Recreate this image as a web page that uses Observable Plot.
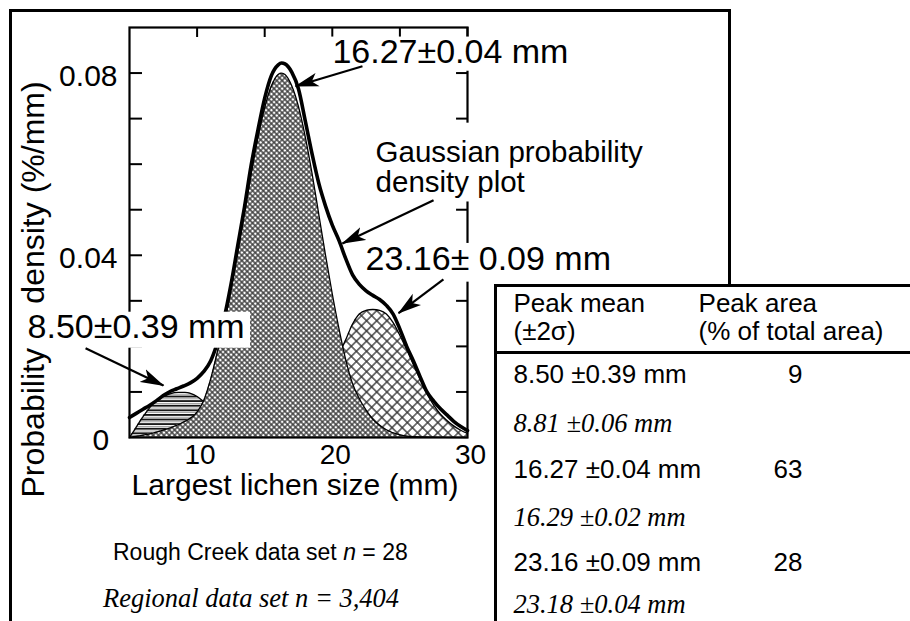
<!DOCTYPE html>
<html>
<head>
<meta charset="utf-8">
<script src="https://cdn.jsdelivr.net/npm/d3@7"></script>
<script src="https://cdn.jsdelivr.net/npm/@observablehq/plot@0.6"></script>
<style>
  body { margin: 0; background: #fff; overflow: hidden; }
  #wrap { position: relative; width: 910px; height: 621px; overflow: hidden; background: #fff;
          font-family: "Liberation Sans", Arial, Helvetica, sans-serif; }
  #wrap svg { position: absolute; left: 0; top: 0; }
  svg text { white-space: pre; }
  .ln { position: absolute; background: #000; }
  .note { position: absolute; white-space: nowrap; line-height: 1; color: #000; }
</style>
</head>
<body>
<div id="wrap"></div>
<script>
// ---------------- data ----------------
// Peak 1 (8.50 mm) fitted component
const peak1X = [5, 5.4, 5.8, 6.3, 6.8, 7.5, 8.0, 8.6, 9.1, 9.5, 10.0, 10.4, 11, 12, 13, 14];
const peak1Y = [0, 0.0018, 0.0037, 0.0058, 0.0076, 0.0090, 0.0096, 0.0099, 0.0099, 0.0097, 0.0090, 0.0081, 0.0066, 0.0040, 0.0020, 0.0008];
// Peak 2 (16.27 mm) fitted component
const peak2X = [5, 6, 7, 8, 9, 10, 10.5, 11, 11.5, 12, 12.5, 13, 13.5, 14, 14.5, 15, 15.5, 16, 16.25, 16.5, 17, 17.5, 18, 18.5, 19, 19.5, 20, 20.5, 21, 21.5, 22, 22.5, 23, 24, 25, 26, 30];
const peak2Y = [0, 0.0005, 0.0012, 0.0021, 0.0034, 0.0056, 0.0082, 0.0128, 0.0188, 0.0250, 0.0323, 0.0405, 0.0492, 0.0578, 0.0658, 0.0724, 0.0772, 0.0797, 0.0800, 0.0797, 0.0772, 0.0726, 0.0660, 0.0580, 0.0490, 0.0400, 0.0315, 0.0238, 0.0170, 0.0118, 0.0085, 0.0060, 0.0040, 0.0017, 0.0006, 0.0002, 0];
// Peak 3 (23.16 mm) fitted component
const peak3X = [14, 16, 18, 19, 20, 20.5, 21, 21.5, 22, 22.5, 23, 23.5, 24, 24.5, 25, 25.5, 26, 26.5, 27, 27.5, 28, 28.5, 29, 29.5, 30];
const peak3Y = [0.0003, 0.0018, 0.0062, 0.0098, 0.0150, 0.0182, 0.0215, 0.0249, 0.0271, 0.0279, 0.0281, 0.0279, 0.0271, 0.0252, 0.0224, 0.0193, 0.0160, 0.0128, 0.0096, 0.0071, 0.0051, 0.0037, 0.0025, 0.0016, 0.0009];
// Gaussian probability density plot (thick line)
const densX = [5, 5.5, 6, 6.5, 7, 7.5, 8, 8.5, 9, 9.5, 10, 10.5, 11, 11.5, 12, 12.5, 13, 13.5, 14, 14.5, 15, 15.5, 16, 16.25, 16.5, 17, 17.5, 18, 18.5, 19, 19.5, 20, 20.5, 21, 21.5, 22, 22.5, 23, 23.5, 24, 24.5, 25, 25.5, 26, 26.5, 27, 27.5, 28, 28.5, 29, 29.5, 30];
const densY = [0.0044, 0.0053, 0.0062, 0.0071, 0.0081, 0.0092, 0.0101, 0.0107, 0.0113, 0.0120, 0.0130, 0.0145, 0.0168, 0.0208, 0.0262, 0.0335, 0.0420, 0.0505, 0.0598, 0.0675, 0.0745, 0.0795, 0.0818, 0.0822, 0.0820, 0.0802, 0.0765, 0.0695, 0.0623, 0.0558, 0.0508, 0.0466, 0.0432, 0.0392, 0.0357, 0.0336, 0.0322, 0.0312, 0.0303, 0.0290, 0.0271, 0.0238, 0.0200, 0.0168, 0.0133, 0.0100, 0.0080, 0.0063, 0.0049, 0.0035, 0.0024, 0.0015];

// ticks and labels
const yTickLabels = [0, 0.04, 0.08];
const yMinorTicks = [0.01, 0.02, 0.03, 0.04, 0.05, 0.06, 0.07, 0.08];
const xTickLabels = [10, 20, 30];
const xTopTicks = [10, 15, 20, 25, 30];
const xTitle = "Largest lichen size (mm)";
const yTitle = "Probability     density (%/mm)";

// annotation and table texts
const peakLabels = ["16.27±0.04 mm", "23.16± 0.09 mm", "8.50±0.39 mm"];
const curveLabel = ["Gaussian probability", "density plot"];
const tableHeader = ["Peak mean", "(±2σ)", "Peak area", "(% of total area)"];
const peakMeans = ["8.50 ±0.39 mm", "16.27 ±0.04 mm", "23.16 ±0.09 mm"];
const regionalMeans = ["8.81 ±0.06 mm", "16.29 ±0.02 mm", "23.18 ±0.04 mm"];
const peakAreas = ["9", "63", "28"];

// ---------------- layout (data units) ----------------
const pts = (xs, ys) => xs.map((x, i) => ({x, y: ys[i]}));
const p1 = pts(peak1X, peak1Y), p2 = pts(peak2X, peak2Y), p3 = pts(peak3X, peak3Y), dens = pts(densX, densY);

const SANS = "Liberation Sans, Arial, Helvetica, sans-serif";
const SERIF = "Liberation Serif, Times New Roman, serif";

const peakLabelPos = [{x: 20.01, y: 0.0822}, {x: 22.46, y: 0.0367}, {x: -2.54, y: 0.0218}];
const peakLabelData = peakLabels.map((t, i) => ({...peakLabelPos[i], text: t}));
const curveLabelData = curveLabel.map((t, i) => ({x: 23.2, y: [0.0604, 0.05385][i], text: t}));
const labelBoxes = [
  {x1: 19.87, x2: 37.62, y1: 0.0804, y2: 0.0879},
  {x1: 22.97, x2: 43.9, y1: 0.0517, y2: 0.0690},
  {x1: 22.23, x2: 41.02, y1: 0.0341, y2: 0.0426},
  {x1: -2.69, x2: 13.95, y1: 0.0196, y2: 0.0275}
];
const arrows = [
  {x1: 22.23, y1: 0.0815, x2: 17.28, y2: 0.0771},
  {x1: 27.49, y1: 0.0521, x2: 20.75, y2: 0.0426},
  {x1: 28.22, y1: 0.0347, x2: 24.9, y2: 0.0273},
  {x1: 1.75, y1: 0.0196, x2: 7.51, y2: 0.0114}
];
const axisTitles = [{x: 17.24, y: 0, text: xTitle}];
const yTitleData = [{x: -1.36, y: 0.0325, text: yTitle}];

const colMean = 33.4, colArea = 47.09, colNum = 54.78;
const headerCells = [
  {x: colMean, y: 0.02747, text: tableHeader[0]},
  {x: colMean, y: 0.02132, text: tableHeader[1]},
  {x: colArea, y: 0.02747, text: tableHeader[2]},
  {x: colArea, y: 0.02132, text: tableHeader[3]}
];
const meanRowY = [0.01187, -0.00879, -0.02923];
const regRowY = [0.0011, -0.01934, -0.03846];
const meanCells = peakMeans.map((t, i) => ({x: colMean, y: meanRowY[i], text: t}));
const areaCells = peakAreas.map((t, i) => ({x: colNum, y: meanRowY[i], text: t}));
const regCells = regionalMeans.map((t, i) => ({x: colMean, y: regRowY[i], text: t}));

const curve = "monotone-x";

const chart = Plot.plot({
  width: 910, height: 621,
  marginLeft: 129, marginRight: 443, marginTop: 27, marginBottom: 184,
  x: {domain: [5, 30]},
  y: {domain: [0, 0.09]},
  style: {background: "transparent", color: "black", fontFamily: SANS, overflow: "visible"},
  marks: [
    Plot.areaY(p1, {x: "x", y: "y", curve, fill: "url(#pStripe)"}),
    Plot.lineY(p1, {x: "x", y: "y", curve, stroke: "black", strokeWidth: 1.3}),
    Plot.areaY(p3, {x: "x", y: "y", curve, fill: "url(#pCoarse)"}),
    Plot.lineY(p3, {x: "x", y: "y", curve, stroke: "black", strokeWidth: 1.3}),
    Plot.areaY(p2, {x: "x", y: "y", curve, fill: "url(#pFine)"}),
    Plot.lineY(p2, {x: "x", y: "y", curve, stroke: "black", strokeWidth: 1.3}),
    Plot.lineY(dens, {x: "x", y: "y", curve, stroke: "black", strokeWidth: 3.6}),
    Plot.frame({stroke: "black", strokeWidth: 2.2}),
    Plot.ruleY(yMinorTicks, {y: d => d, x1: 5, x2: 5.96, stroke: "black", strokeWidth: 2}),
    Plot.ruleY(yMinorTicks, {y: d => d, x1: 29.19, x2: 30, stroke: "black", strokeWidth: 2}),
    Plot.ruleX(xTopTicks, {x: d => d, y1: 0.09, y2: 0.0878, stroke: "black", strokeWidth: 2}),
    Plot.axisX(xTickLabels, {tickSize: 0, tickPadding: 7, fontSize: 28, dx: 3, label: null}),
    Plot.axisY(yTickLabels, {tickSize: 0, tickPadding: 12, fontSize: 30, dy: 3, label: null,
      tickFormat: d => d === 0 ? "0 " : d.toFixed(2)}),
    Plot.text(axisTitles, {x: "x", y: "y", text: "text", dy: 57, lineAnchor: "bottom", fontSize: 30}),
    Plot.text(yTitleData, {x: "x", y: "y", text: "text", rotate: -90, lineAnchor: "bottom", fontSize: 32}),
    Plot.rect(labelBoxes, {x1: "x1", x2: "x2", y1: "y1", y2: "y2", fill: "white"}),
    Plot.text(peakLabelData, {x: "x", y: "y", text: "text", textAnchor: "start", lineAnchor: "bottom", fontSize: 34}),
    Plot.text(curveLabelData, {x: "x", y: "y", text: "text", textAnchor: "start", lineAnchor: "bottom", fontSize: 29.5}),
    Plot.link(arrows, {x1: "x1", y1: "y1", x2: "x2", y2: "y2", stroke: "black", strokeWidth: 2.2, markerEnd: "arrow"}),
    Plot.text(headerCells, {x: "x", y: "y", text: "text", textAnchor: "start", lineAnchor: "bottom", fontSize: 26}),
    Plot.text(meanCells, {x: "x", y: "y", text: "text", textAnchor: "start", lineAnchor: "bottom", fontSize: 26}),
    Plot.text(areaCells, {x: "x", y: "y", text: "text", textAnchor: "end", lineAnchor: "bottom", fontSize: 26}),
    Plot.text(regCells, {x: "x", y: "y", text: "text", textAnchor: "start", lineAnchor: "bottom", fontSize: 26.5,
      fontFamily: SERIF, fontStyle: "italic"})
  ]
});

// hatch patterns
const NS = "http://www.w3.org/2000/svg";
const defs = document.createElementNS(NS, "defs");
defs.innerHTML = `
<pattern id="pFine" patternUnits="userSpaceOnUse" width="3.8" height="3.8" patternTransform="rotate(45)">
  <rect width="3.8" height="3.8" fill="#fff"/>
  <path d="M0 1.9H3.8M1.9 0V3.8" stroke="#3a3a3a" stroke-width="1.3"/>
</pattern>
<pattern id="pCoarse" patternUnits="userSpaceOnUse" width="7.2" height="7.2" patternTransform="rotate(45)">
  <rect width="7.2" height="7.2" fill="#fff"/>
  <path d="M0 3.6H7.2M3.6 0V7.2" stroke="#333" stroke-width="1.3"/>
</pattern>
<pattern id="pStripe" patternUnits="userSpaceOnUse" width="8" height="4.6">
  <rect width="8" height="4.6" fill="#fff"/>
  <rect y="0" width="8" height="1.8" fill="#111"/>
  <rect y="2.7" width="8" height="1" fill="#9a9a9a"/>
</pattern>`;
chart.insertBefore(defs, chart.firstChild);

// turn Plot's open arrow markers into larger filled arrowheads
chart.querySelectorAll("marker").forEach(m => {
  m.setAttribute("viewBox", "0 0 24 15");
  m.setAttribute("refX", "23");
  m.setAttribute("refY", "7.5");
  m.setAttribute("markerWidth", "24");
  m.setAttribute("markerHeight", "15");
  m.setAttribute("markerUnits", "userSpaceOnUse");
  m.setAttribute("orient", "auto");
  m.setAttribute("fill", "#000");
  m.setAttribute("stroke", "none");
  m.innerHTML = "";
  const p = document.createElementNS(NS, "path");
  p.setAttribute("d", "M0,0.5 L24,7.5 L0,14.5 L6,7.5 Z");
  p.setAttribute("fill", "#000");
  p.setAttribute("stroke", "none");
  m.appendChild(p);
});

const wrap = document.getElementById("wrap");
wrap.appendChild(chart);

// frame lines (outer border and table rules)
const lines = [
  [9, 9, 3, 620], [9, 9, 722, 3], [728, 9, 3, 277],
  [494, 284, 420, 2.5], [494, 284, 2.5, 340], [495, 351, 420, 2.5]
];
for (const [l, t, w, h] of lines) {
  const d = document.createElement("div");
  d.className = "ln";
  Object.assign(d.style, {left: l + "px", top: t + "px", width: w + "px", height: h + "px"});
  wrap.appendChild(d);
}

// captions below the plot
const cap1 = document.createElement("div");
cap1.className = "note";
Object.assign(cap1.style, {left: "113px", top: "540.5px", fontSize: "23px"});
cap1.innerHTML = "Rough Creek data set <i>n</i> = 28";
wrap.appendChild(cap1);
const cap2 = document.createElement("div");
cap2.className = "note";
Object.assign(cap2.style, {left: "103px", top: "584.8px", fontSize: "26.5px",
  fontFamily: "'Liberation Serif', 'Times New Roman', serif", fontStyle: "italic"});
cap2.textContent = "Regional data set n = 3,404";
wrap.appendChild(cap2);
</script>
</body>
</html>
